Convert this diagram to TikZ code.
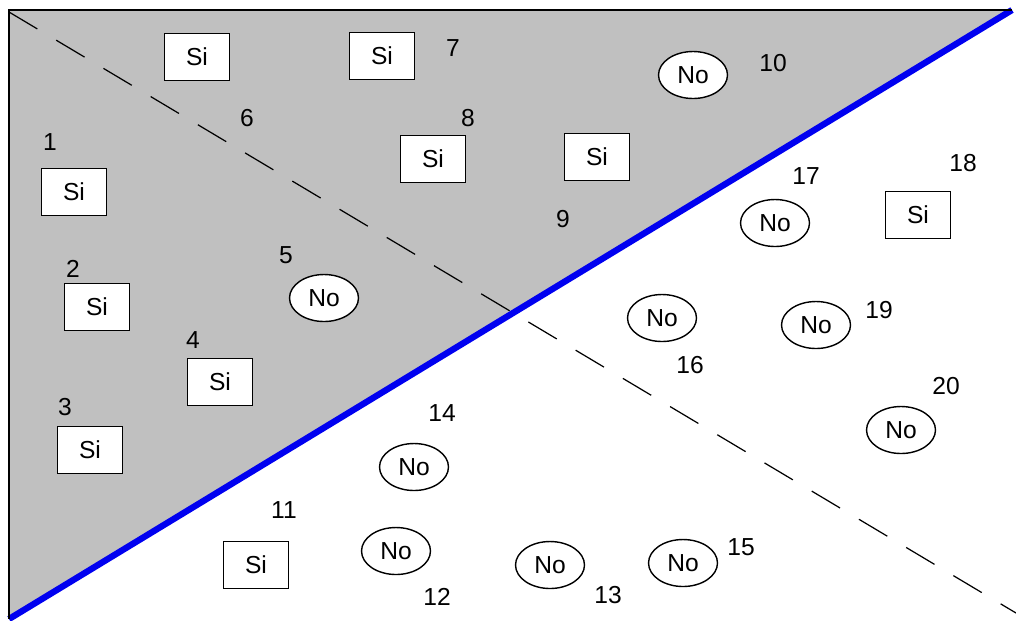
\documentclass[tikz,border=0pt]{standalone}
\usepackage{fontspec}
\setmainfont{Liberation Sans}
\usepackage{xcolor}
\definecolor{cinzento}{RGB}{192,192,192}
\definecolor{azulL}{RGB}{0,0,240}
\usetikzlibrary{shapes.geometric}

\begin{document}
\begin{tikzpicture}[x=0.02cm,y=-0.02cm,
            sim/.style={draw,fill=white,line width=0.8pt,
              minimum width=1.3cm,minimum height=0.94cm,inner sep=0pt,
            font=\fontsize{14}{16}\selectfont},
            nao/.style={ellipse,draw,fill=white,line width=0.8pt,
              minimum width=1.38cm,minimum height=0.94cm,inner sep=0pt,
            font=\fontsize{14}{16}\selectfont},
            num/.style={inner sep=0pt,font=\fontsize{14}{16}\selectfont},
            corte/.style={line width=0.7pt,dash pattern=on 0.66cm off 0.44cm},
            fronteira/.style={azulL,line width=3.6pt}
            ]
            \useasboundingbox (0,0) rectangle (1016,620);
            \coordinate (tl) at (9,10);
            \coordinate (tr) at (1012,10);
            \coordinate (bl) at (9,619);
            \coordinate (dA) at (9,12);
            \coordinate (dB) at (1016,613);

            \fill[cinzento] (tl) -- (tr) -- (bl) -- cycle;
            \draw[corte] (dA) -- (dB);
            \draw[fronteira] (bl) -- (tr);
            \draw[line width=0.9pt] (bl) -- (tl) -- (tr);

            % zona cinzenta
            \node[sim] (s0)  at (197,57)  {Si};
            \node[sim] (s1)  at (74,192)  {Si};
            \node[sim] (s2)  at (97,307)  {Si};
            \node[sim] (s3)  at (90,450)  {Si};
            \node[sim] (s4)  at (220,382) {Si};
            \node[nao] (s5)  at (324,298) {No};
            \node[sim] (s7)  at (382,56)  {Si};
            \node[sim] (s8)  at (433,159) {Si};
            \node[sim] (s9)  at (597,157) {Si};
            \node[nao] (s10) at (693,75)  {No};

            % zona branca
            \node[sim] (s11) at (256,565) {Si};
            \node[nao] (s12) at (396,551) {No};
            \node[nao] (s13) at (550,565) {No};
            \node[nao] (s14) at (414,467) {No};
            \node[nao] (s15) at (683,563) {No};
            \node[nao] (s16) at (662,318) {No};
            \node[nao] (s17) at (775,223) {No};
            \node[sim] (s18) at (918,215) {Si};
            \node[nao] (s19) at (816,325) {No};
            \node[nao] (s20) at (901,430) {No};

            % numeros
            \node[num] (n1)  at (50,142)  {1};
            \node[num] (n2)  at (73,269)  {2};
            \node[num] (n3)  at (65,407)  {3};
            \node[num] (n4)  at (193,340) {4};
            \node[num] (n5)  at (286,255) {5};
            \node[num] (n6)  at (247,118) {6};
            \node[num] (n7)  at (453,48)  {7};
            \node[num] (n8)  at (468,118) {8};
            \node[num] (n9)  at (563,219) {9};
            \node[num] (n10) at (773,63)  {10};
            \node[num] (n11) at (284,510) {11};
            \node[num] (n12) at (437,597) {12};
            \node[num] (n13) at (608,595) {13};
            \node[num] (n14) at (442,413) {14};
            \node[num] (n15) at (741,547) {15};
            \node[num] (n16) at (690,365) {16};
            \node[num] (n17) at (806,176) {17};
            \node[num] (n18) at (963,163) {18};
            \node[num] (n19) at (879,310) {19};
            \node[num] (n20) at (946,386) {20};
          \end{tikzpicture}
\end{document}
